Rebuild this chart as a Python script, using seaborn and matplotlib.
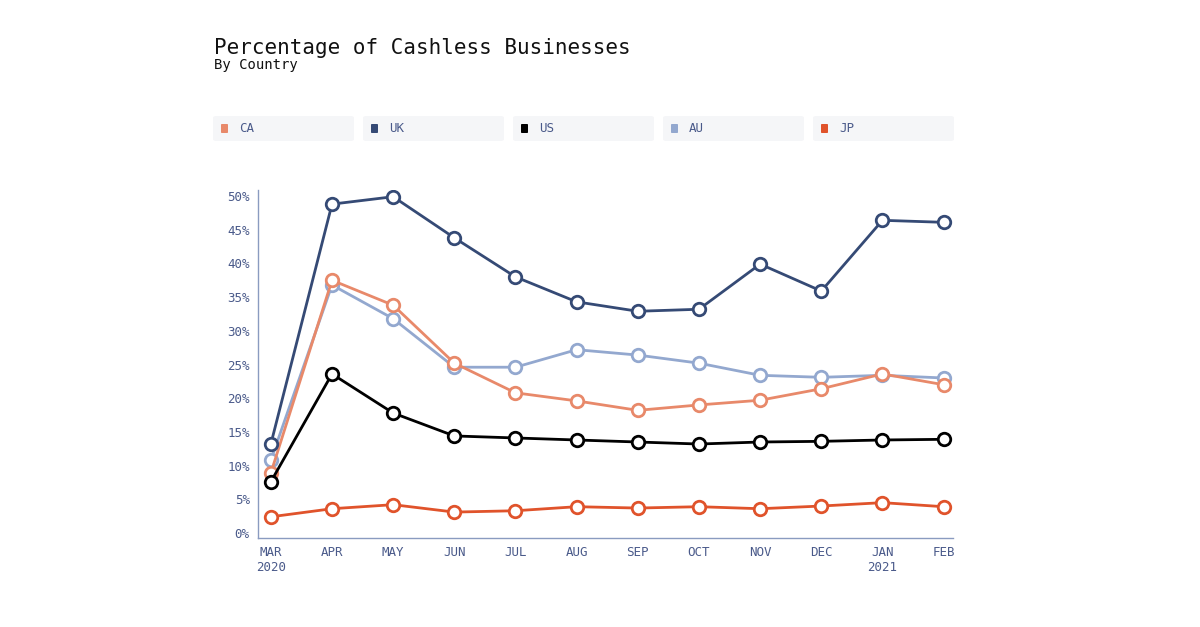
import pandas as pd
import seaborn as sns
import matplotlib.pyplot as plt
from matplotlib.patches import FancyBboxPatch

months = ["MAR\n2020", "APR", "MAY", "JUN", "JUL", "AUG", "SEP", "OCT", "NOV", "DEC", "JAN\n2021", "FEB"]
ca = [8.9, 37.5, 33.8, 25.2, 20.8, 19.6, 18.2, 19.0, 19.7, 21.4, 23.6, 22.0]
uk = [13.2, 48.8, 49.9, 43.8, 38.0, 34.3, 32.9, 33.2, 39.9, 35.9, 46.4, 46.1]
us = [7.6, 23.6, 17.8, 14.4, 14.1, 13.8, 13.5, 13.2, 13.5, 13.6, 13.8, 13.9]
au = [10.8, 36.8, 31.8, 24.6, 24.6, 27.2, 26.4, 25.2, 23.4, 23.1, 23.4, 23.0]
jp = [2.4, 3.6, 4.2, 3.1, 3.3, 3.9, 3.7, 3.9, 3.6, 4.0, 4.5, 3.9]

countries = ["CA", "UK", "US", "AU", "JP"]
colors = {"CA": "#e8896a", "UK": "#354a75", "US": "#000000", "AU": "#93a8cf", "JP": "#e0532b"}
draw_order = ["JP", "AU", "CA", "UK", "US"]

series = {"CA": ca, "UK": uk, "US": us, "AU": au, "JP": jp}
rows = []
for c in countries:
    for i, v in enumerate(series[c]):
        rows.append({"country": c, "month": i, "value": v})
df = pd.DataFrame(rows)

sns.set_theme(style="white")
plt.rcParams['font.family'] = ['DejaVu Sans Mono', 'DejaVu Sans']
tick_col = "#4a5a8a"

fig = plt.figure(figsize=(12, 6.27), dpi=100)
ax = fig.add_axes([0.215, 0.142, 0.579, 0.555])

for c in draw_order:
    sns.lineplot(data=df[df.country == c], x="month", y="value", color=colors[c],
                 marker="o", markersize=9, markerfacecolor="white",
                 markeredgecolor=colors[c], markeredgewidth=2, linewidth=2, ax=ax)

ax.set_xlim(-0.21, 11.15)
ax.set_ylim(-0.74, 50.9)
ax.set_xticks(range(12))
ax.set_xticklabels(months, fontsize=9, color=tick_col)
ax.set_yticks(range(0, 51, 5))
ax.set_yticklabels([f"{v}%" for v in range(0, 51, 5)], fontsize=9, color=tick_col)
ax.tick_params(length=0, pad=6)
ax.set_xlabel("")
ax.set_ylabel("")
for s in ["top", "right"]:
    ax.spines[s].set_visible(False)
for s in ["left", "bottom"]:
    ax.spines[s].set_color("#8a9bc0")
    ax.spines[s].set_linewidth(1)

fig.text(214 / 1200, 1 - 48 / 627, "Percentage of Cashless Businesses", fontsize=15,
         color="#111111", va="center", ha="left")
fig.text(214 / 1200, 1 - 65 / 627, "By Country", fontsize=10, color="#111111",
         va="center", ha="left")

# legend boxes
for i, c in enumerate(countries):
    x0 = (213 + i * 150) / 1200
    y0 = 1 - 141 / 627
    w = 141 / 1200
    h = 25 / 627
    fig.patches.append(FancyBboxPatch((x0, y0), w, h, boxstyle="round,pad=0,rounding_size=0.003",
                                      transform=fig.transFigure, facecolor="#f5f6f8",
                                      edgecolor="none"))
    fig.patches.append(FancyBboxPatch((x0 + 8 / 1200, 1 - 133 / 627), 7 / 1200, 9 / 627,
                                      boxstyle="round,pad=0,rounding_size=0.001",
                                      transform=fig.transFigure, facecolor=colors[c],
                                      edgecolor="none"))
    fig.text(x0 + 26 / 1200, 1 - 128.5 / 627, c, fontsize=9, color=tick_col,
             va="center", ha="left")

fig.savefig("out.png", dpi=100, facecolor="white")
